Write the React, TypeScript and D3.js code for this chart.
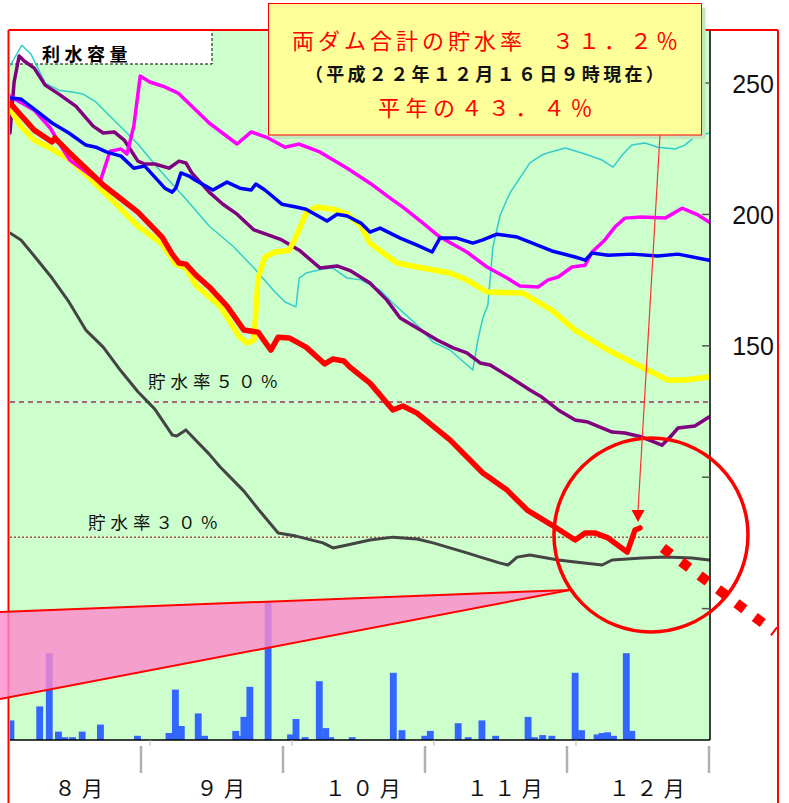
import * as d3 from 'd3';

// x: 8月1日からの日数, y: 両ダム合計の貯水量
const dayMax = 153;
const volumeMax = 270;
const capacity = 257.3;

const lineRed: [number, number][] = [
  [0, 242.4], [5.3, 232.1], [9.2, 227.6], [9.8, 229.1], [12.9, 223.7], [20.4, 211.2],
  [28.0, 200.9], [33.3, 191.4], [35.5, 184.9], [37.0, 181.5], [38.5, 181.1], [40.7, 176.9],
  [43.6, 172.4], [47.5, 165.1], [51.2, 156.0], [54.3, 155.2], [57.1, 148.4], [58.7, 153.3],
  [61.1, 153.0], [64.8, 149.5], [68.9, 143.1], [70.7, 145.0], [73.1, 144.2], [74.4, 141.9],
  [78.8, 135.8], [83.8, 125.6], [86.0, 127.1], [89.1, 124.4], [96.3, 114.2], [103.5, 101.6],
  [108.8, 95.1], [113.2, 87.5], [118.6, 81.8], [123.7, 76.1], [125.9, 78.8], [128.0, 78.8],
  [130.9, 76.9], [135.1, 71.5], [136.8, 79.9], [137.9, 80.7],
];

const lineYellow: [number, number][] = [
  [0, 240.1], [2.4, 233.6], [5.3, 228.3], [9.2, 224.9], [12.9, 221.1], [17.5, 213.8],
  [22.8, 204.7], [28.0, 195.6], [33.3, 188.7], [36.3, 181.1], [38.5, 179.6], [40.7, 173.1],
  [46.0, 165.1], [50.3, 153.3], [51.9, 151.1], [53.4, 152.2], [54.3, 175.8], [55.8, 183.8],
  [58.0, 185.7], [61.1, 186.4], [62.6, 191.4], [64.8, 200.5], [67.0, 202.8], [70.7, 202.0],
  [73.8, 200.1], [76.8, 195.6], [78.8, 189.1], [84.7, 181.5], [89.1, 180.0], [96.3, 177.7],
  [100.0, 175.1], [104.4, 170.5], [112.3, 170.1], [118.6, 163.6], [123.7, 156.0],
  [130.9, 148.4], [138.3, 141.9], [144.0, 137.0], [147.7, 137.0], [153, 138.1],
];

const lineBlue: [number, number][] = [
  [0, 244.3], [2.4, 243.9], [5.3, 240.1], [9.2, 234.8], [12.9, 231.0], [16.6, 226.4],
  [18.8, 225.6], [21.2, 223.7], [24.3, 222.2], [27.1, 217.6], [29.5, 218.4], [33.9, 210.0],
  [35.5, 208.5], [36.3, 210.0], [37.4, 215.8], [39.2, 214.6], [40.5, 213.1], [44.4, 209.3],
  [47.5, 212.3], [50.3, 210.0], [52.8, 209.3], [53.8, 211.6], [55.8, 209.3], [59.5, 203.9],
  [62.6, 202.8], [64.8, 202.0], [69.4, 197.5], [71.6, 200.1], [73.8, 199.4], [76.8, 196.7],
  [78.8, 193.3], [81.0, 194.8], [85.4, 191.0], [89.1, 188.3], [92.4, 185.7], [94.1, 191.0],
  [97.8, 191.0], [101.3, 189.1], [103.5, 190.3], [106.6, 192.5], [111.0, 191.4],
  [113.8, 189.5], [118.6, 186.1], [123.7, 183.8], [125.9, 182.6], [127.4, 185.3],
  [130.9, 184.5], [136.1, 184.9], [141.8, 184.2], [146.2, 184.9], [153, 182.6],
];

const lineMagenta: [number, number][] = [
  [0, 245.0], [5.3, 239.7], [8.8, 232.9], [11.4, 225.3], [13.1, 220.7], [16.9, 215.8],
  [19.7, 212.3], [21.9, 224.1], [24.3, 224.9], [25.6, 223.0], [27.1, 233.6], [28.5, 252.7],
  [30.6, 250.4], [33.5, 248.8], [36.8, 246.2], [43.6, 234.8], [49.7, 226.8], [52.8, 231.4],
  [56.5, 229.1], [60.2, 225.6], [63.3, 226.8], [67.9, 223.7], [73.8, 217.6], [78.8, 211.9],
  [83.2, 206.2], [86.0, 202.8], [90.4, 196.7], [94.1, 191.4], [100.0, 185.7], [104.4, 180.0],
  [108.8, 175.8], [111.6, 172.8], [115.6, 172.4], [117.8, 175.1], [120.0, 176.2],
  [123.0, 180.0], [125.9, 180.7], [127.4, 185.7], [130.2, 190.3], [132.4, 195.2],
  [134.6, 198.6], [138.3, 199.0], [143.4, 198.6], [147.1, 202.4], [150.6, 199.8], [153, 197.1],
];

const linePurple: [number, number][] = [
  [0, 231.0], [0.9, 250.4], [2.0, 260.3], [3.1, 258.4], [5.3, 255.7], [7.7, 249.2],
  [10.7, 245.8], [14.4, 241.2], [18.2, 233.6], [20.4, 231.0], [22.8, 231.4], [25.0, 228.3],
  [28.0, 220.3], [29.5, 219.2], [31.7, 219.2], [34.8, 217.6], [37.0, 220.3], [38.5, 219.6],
  [39.8, 215.8], [43.6, 208.5], [46.6, 203.9], [49.7, 200.1], [53.4, 194.1], [56.5, 192.2],
  [59.5, 190.3], [63.3, 186.4], [67.9, 179.6], [71.6, 180.4], [74.6, 178.5], [78.8, 173.9],
  [82.5, 167.4], [85.4, 160.6], [89.1, 156.8], [93.5, 152.2], [97.0, 149.2], [100.0, 147.3],
  [102.9, 143.5], [105.1, 142.7], [109.4, 138.1], [113.8, 133.2], [116.4, 130.5],
  [120.0, 125.6], [123.7, 121.8], [126.5, 121.0], [131.8, 117.2], [134.6, 116.8],
  [138.3, 115.3], [142.7, 112.2], [144.5, 115.3], [146.2, 118.7], [149.9, 119.5], [153, 122.9],
];

const lineCyan: [number, number][] = [
  [0, 256.5], [2.6, 264.4], [4.6, 261.0], [7.7, 250.0], [10.7, 247.3], [13.6, 246.6],
  [16.0, 245.8], [18.8, 242.8], [23.4, 234.8], [28.0, 226.8], [32.4, 217.6], [38.5, 205.9],
  [43.6, 195.6], [49.0, 187.6], [53.4, 179.6], [58.0, 170.5], [60.2, 166.7], [62.6, 164.8],
  [63.3, 175.8], [64.8, 177.7], [68.5, 179.2], [70.7, 179.6], [73.8, 175.8], [76.8, 175.1],
  [81.0, 171.2], [83.8, 166.3], [89.1, 157.9], [92.6, 151.4], [96.3, 148.4], [101.3, 140.8],
  [102.4, 152.2], [103.5, 160.6], [104.6, 165.5], [105.7, 187.6], [107.3, 199.8],
  [109.4, 208.1], [113.8, 219.6], [116.4, 222.6], [118.2, 223.7], [121.5, 225.3],
  [125.2, 223.4], [129.6, 220.7], [132.0, 218.0], [134.0, 222.6], [136.1, 226.4],
  [139.0, 227.2], [141.8, 225.6], [145.6, 224.9], [147.7, 226.4], [149.9, 229.5], [153, 231.0],
];

const lineGray: [number, number][] = [
  [0, 192.9], [2.4, 190.3], [5.3, 184.2], [9.2, 175.8], [12.9, 166.7], [16.6, 156.0],
  [20.4, 149.5], [24.3, 140.4], [28.0, 132.5], [31.7, 125.9], [35.5, 116.1], [36.5, 115.7],
  [38.5, 118.0], [43.6, 108.8], [46.0, 103.9], [51.2, 94.7], [54.3, 87.9], [58.7, 78.8],
  [62.6, 77.6], [68.5, 75.0], [70.7, 73.1], [73.8, 74.2], [78.8, 76.1], [83.8, 77.2],
  [89.1, 76.5], [92.6, 75.0], [96.3, 73.1], [100.0, 71.2], [103.5, 69.3], [107.3, 67.3],
  [109.0, 66.6], [111.0, 69.6], [113.8, 70.4], [120.0, 68.5], [123.7, 67.7], [129.6, 66.6],
  [131.8, 68.5], [138.3, 69.3], [143.4, 69.6], [149.3, 69.3], [153, 68.5],
];

// 日雨量
const rainDays = [
  0.2, 6.5, 8.6, 10.6, 12.0, 13.7, 15.8, 19.8, 27.9, 34.8, 36.2, 37.5, 41.2, 42.6, 49.4,
  50.3, 51.2, 52.5, 56.5, 61.4, 62.6, 64.6, 67.7, 69.1, 70.2, 74.9, 83.9, 85.8, 90.8, 92.0,
  98.1, 100.3, 103.3, 106.3, 113.4, 114.8, 116.6, 118.6, 123.7, 125.1, 128.5, 129.6, 130.8,
  132.1, 134.9, 136.1,
];
const rainMm = [
  14, 24, 62, 6, 2, 2, 6, 11, 3, 5, 36, 10, 19, 3, 6.5, 3, 16.5, 38, 99, 4, 15, 2, 42, 8.5,
  2, 2, 48, 7, 3, 6.5, 12, 2, 14, 3, 16.5, 2, 3.5, 3, 48, 7, 4, 5, 5.5, 3, 62, 6.5,
];

const monthLabels = ['８月', '９月', '１０月', '１１月', '１２月'];
const axisTicks = [50, 100, 150, 200, 250];
const axisLabels = [150, 200, 250];

const headline = '両ダム合計の貯水率　３１．２％';
const asOf = '（平成２２年１２月１６日９時現在）';
const normalYear = '平年の４３．４％';

// 注記の位置（日数, 貯水量）
const circleCenter: [number, number] = [140.3, 78];
const calloutTip: [number, number] = [122.6, 57.1];
const calloutLeft: [number, number][] = [[-2.2, 48.7], [-2.2, 15.6]];
const dotsFrom: [number, number] = [142.9, 73.1];
const dotsTo: [number, number] = [167.4, 41.1];

const cjk = '"Noto Sans CJK JP", sans-serif';

export default function App() {
  const width = 789;
  const height = 803;

  const x = d3.scaleLinear().domain([0, dayMax]).range([10, 709]);
  const y = d3.scaleLinear().domain([0, volumeMax]).range([740, 30.5]);
  const rainH = d3.scaleLinear().domain([0, 100]).range([0, 140]);
  const month = d3.scaleBand<string>().domain(monthLabels).range([-1, 709]);

  const line = d3
    .line<[number, number]>()
    .x((d) => x(d[0]))
    .y((d) => y(d[1]));

  const series = [
    { data: lineGray, color: '#444444', w: 3 },
    { data: lineCyan, color: '#33CCCC', w: 1.5 },
    { data: linePurple, color: '#800080', w: 3.5 },
    { data: lineYellow, color: '#FFFF00', w: 5.5 },
    { data: lineMagenta, color: '#FF00FF', w: 3.5 },
    { data: lineBlue, color: '#0000FF', w: 3.5 },
    { data: lineRed, color: '#FF0000', w: 5.5 },
  ];

  const left = x(0);
  const right = x(dayMax);
  const top = y(volumeMax);
  const bottom = y(0);
  const barW = x(1.5) - x(0);

  const last = lineRed[lineRed.length - 1];
  const tipX = x(last[0]) - 2;
  const tipY = y(last[1]) - 6;

  const wedge = [calloutTip, ...calloutLeft].map((p) => [x(p[0]), y(p[1])]);

  return (
    <svg
      width={width}
      height={height}
      style={{ position: 'absolute', left: 0, top: 0, background: '#fff' }}
    >
      <defs>
        <clipPath id="plot">
          <rect x={left} y={top} width={right - left + 1} height={bottom - top} />
        </clipPath>
      </defs>

      <rect x={left} y={top} width={right - left + 1} height={bottom - top} fill="#CCFFCC" />

      {/* 外枠 */}
      <line x1={left - 1.5} x2={right + 69} y1={top - 0.5} y2={top - 0.5} stroke="#FF0000" strokeWidth={2} />
      <line x1={left - 1.5} x2={left - 1.5} y1={top - 0.5} y2={height} stroke="#FF0000" strokeWidth={2} />
      <line x1={right + 69} x2={right + 69} y1={top - 0.5} y2={height} stroke="#FF0000" strokeWidth={2} />

      {/* 利水容量 */}
      <rect x={left} y={top + 0.5} width={202} height={33} fill="#fff" />
      <path
        d={`M${left},${top + 33.5}H${left + 202}V${top}`}
        fill="none"
        stroke="#000"
        strokeWidth={1}
        strokeDasharray="3 2"
      />
      <text x={left + 32} y={top + 30} fontFamily={cjk} fontSize={18} fontWeight="bold" letterSpacing={4.5}>
        利水容量
      </text>

      {/* 貯水率 50% / 30% */}
      <line
        x1={left}
        x2={right}
        y1={y(capacity * 0.5)}
        y2={y(capacity * 0.5)}
        stroke="#993366"
        strokeWidth={1.5}
        strokeDasharray="5 4"
      />
      <line
        x1={left}
        x2={right}
        y1={y(capacity * 0.3)}
        y2={y(capacity * 0.3)}
        stroke="#800000"
        strokeWidth={1}
        strokeDasharray="2 2"
      />
      <text x={148} y={y(capacity * 0.5) - 14} fontFamily={cjk} fontSize={17.5} letterSpacing={5} fill="#111">
        貯水率５０％
      </text>
      <text x={88} y={y(capacity * 0.3) - 8} fontFamily={cjk} fontSize={17.5} letterSpacing={5} fill="#111">
        貯水率３０％
      </text>

      {/* 雨量 */}
      <g clipPath="url(#plot)">
        {rainDays.map((d, i) => (
          <rect
            key={i}
            x={x(d) - barW / 2}
            y={bottom - rainH(rainMm[i])}
            width={barW}
            height={rainH(rainMm[i])}
            fill="#3366FF"
          />
        ))}
      </g>

      {/* 貯水量 */}
      <g clipPath="url(#plot)" fill="none" strokeLinejoin="round" strokeLinecap="round">
        {series.map((s, i) => (
          <path key={i} d={line(s.data) ?? ''} stroke={s.color} strokeWidth={s.w} />
        ))}
      </g>

      {/* 軸 */}
      <line x1={left} x2={right + 1} y1={bottom} y2={bottom} stroke="#000" strokeWidth={1.5} />
      <line x1={right + 1} x2={right + 1} y1={top} y2={bottom} stroke="#000" strokeWidth={1.5} />
      {axisTicks.map((t) => (
        <line key={t} x1={right - 7} x2={right + 1} y1={y(t)} y2={y(t)} stroke="#555" strokeWidth={1.5} />
      ))}
      {axisLabels.map((t) => (
        <text
          key={t}
          x={right + 44}
          y={y(t) + 9.5}
          textAnchor="middle"
          fontFamily="'Liberation Sans', Arial, sans-serif"
          fontSize={25}
          fill="#111"
        >
          {t}
        </text>
      ))}
      {monthLabels.map((m, i) => (
        <g key={m}>
          <line
            x1={(month(m) ?? 0) + month.bandwidth()}
            x2={(month(m) ?? 0) + month.bandwidth()}
            y1={bottom + 6}
            y2={bottom + 33}
            stroke="#B0B0B0"
            strokeWidth={2.5}
          />
          {i < monthLabels.length - 1 && (
            <line
              x1={(month(m) ?? 0) + month.bandwidth() + 9}
              x2={(month(m) ?? 0) + month.bandwidth() + 9}
              y1={bottom}
              y2={bottom + 6}
              stroke="#B8B8B8"
              strokeWidth={1}
            />
          )}
          <text
            x={(month(m) ?? 0) + month.bandwidth() / 2 + 12}
            y={796}
            textAnchor="middle"
            fontFamily={cjk}
            fontSize={21}
            letterSpacing={6.5}
            fill="#111"
          >
            {m}
          </text>
        </g>
      ))}

      {/* 吹き出し */}
      <polygon
        points={wedge.map((p) => p.join(',')).join(' ')}
        fill="#FF88CC"
        fillOpacity={0.8}
      />
      <line x1={wedge[0][0]} y1={wedge[0][1]} x2={wedge[1][0]} y2={wedge[1][1]} stroke="#FF0000" strokeWidth={2} />
      <line x1={wedge[0][0]} y1={wedge[0][1]} x2={wedge[2][0]} y2={wedge[2][1]} stroke="#FF0000" strokeWidth={2} />

      <circle
        cx={x(circleCenter[0])}
        cy={y(circleCenter[1])}
        r={97}
        fill="none"
        stroke="#FF0000"
        strokeWidth={3.5}
      />
      <line
        x1={x(dotsFrom[0])}
        y1={y(dotsFrom[1])}
        x2={x(dotsTo[0])}
        y2={y(dotsTo[1])}
        stroke="#FF0000"
        strokeWidth={10}
        strokeDasharray="10 13"
      />

      {/* 現在値の注記 */}
      <rect x={272.5} y={7.5} width={433} height={131.5} fill="#C4E6BE" />
      <rect x={268.5} y={3.5} width={433} height={131.5} fill="#FFFF99" stroke="#FF0000" strokeWidth={1} />
      <line x1={660} y1={135} x2={tipX} y2={tipY - 11} stroke="#FF3333" strokeWidth={1.2} />
      <polygon
        points={`${tipX},${tipY} ${tipX - 6.5},${tipY - 12} ${tipX + 6.5},${tipY - 12}`}
        fill="#FF0000"
      />
      <text x={487} y={49} textAnchor="middle" fontFamily={cjk} fontSize={22} letterSpacing={4} fill="#FF0000">
        {headline}
      </text>
      <text
        x={486}
        y={81}
        textAnchor="middle"
        fontFamily={cjk}
        fontSize={18}
        fontWeight="bold"
        letterSpacing={3.3}
        fill="#111"
      >
        {asOf}
      </text>
      <text x={488} y={116} textAnchor="middle" fontFamily={cjk} fontSize={22} letterSpacing={5.5} fill="#FF0000">
        {normalYear}
      </text>
    </svg>
  );
}
